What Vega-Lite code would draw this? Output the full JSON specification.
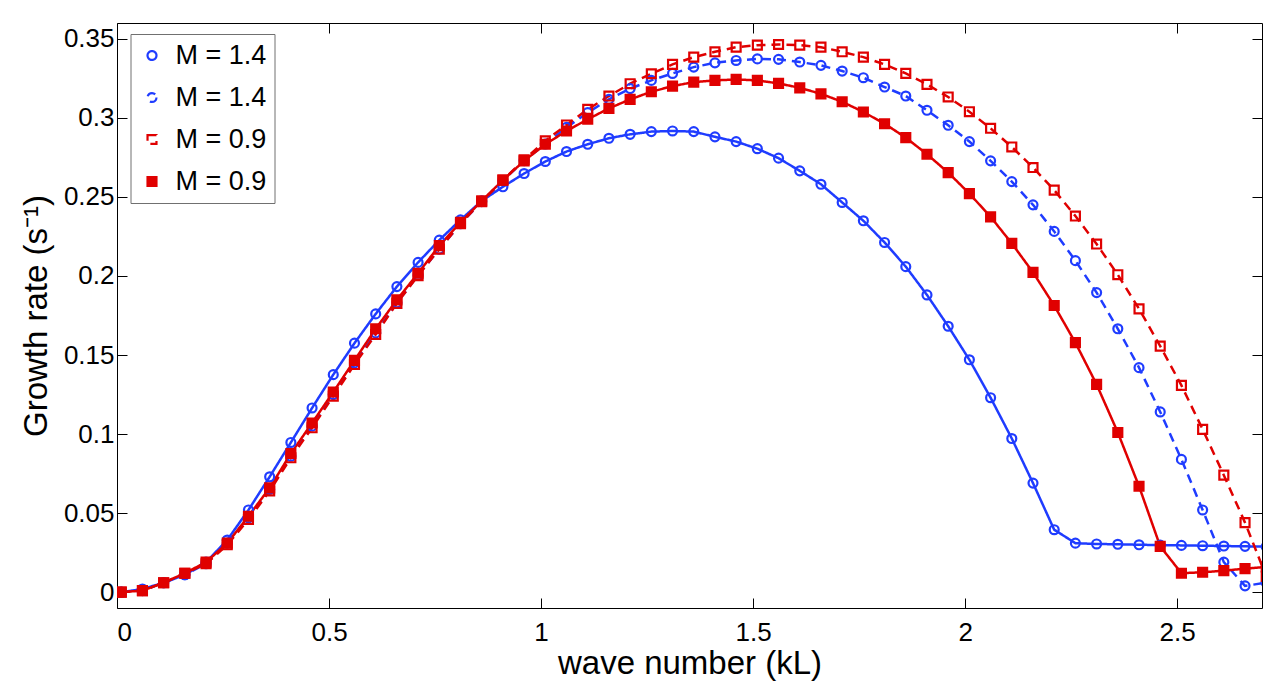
{
  "$schema": "https://vega.github.io/schema/vega-lite/v6.json",
  "width": 1145,
  "height": 585,
  "autosize": {"type": "none"},
  "padding": {"left": 117, "top": 23, "right": 9, "bottom": 73},
  "background": "white",
  "config": {
    "view": {"stroke": null},
    "font": "Liberation Sans",
    "axis": {
      "grid": false,
      "domainColor": "#000000",
      "domainWidth": 1,
      "tickColor": "#000000",
      "tickWidth": 1,
      "tickSize": -10,
      "labelColor": "#000000",
      "titleColor": "#000000",
      "labelFont": "Liberation Sans",
      "titleFont": "Liberation Sans",
      "labelFontSize": 26,
      "titleFontSize": 33,
      "titleFontWeight": "normal"
    }
  },
  "data": {
    "values": [
      {"x": 0.01, "blue_solid": 0.000, "blue_dashed": 0.000, "red_dashed": 0.000, "red_solid": 0.000},
      {"x": 0.06, "blue_solid": 0.002, "blue_dashed": 0.001, "red_dashed": 0.001, "red_solid": 0.001},
      {"x": 0.11, "blue_solid": 0.006, "blue_dashed": 0.006, "red_dashed": 0.006, "red_solid": 0.006},
      {"x": 0.16, "blue_solid": 0.011, "blue_dashed": 0.011, "red_dashed": 0.012, "red_solid": 0.012},
      {"x": 0.21, "blue_solid": 0.019, "blue_dashed": 0.018, "red_dashed": 0.018, "red_solid": 0.019},
      {"x": 0.26, "blue_solid": 0.033, "blue_dashed": 0.031, "red_dashed": 0.030, "red_solid": 0.031},
      {"x": 0.31, "blue_solid": 0.052, "blue_dashed": 0.047, "red_dashed": 0.046, "red_solid": 0.048},
      {"x": 0.36, "blue_solid": 0.073, "blue_dashed": 0.065, "red_dashed": 0.064, "red_solid": 0.066},
      {"x": 0.41, "blue_solid": 0.0947, "blue_dashed": 0.086, "red_dashed": 0.085, "red_solid": 0.0877},
      {"x": 0.46, "blue_solid": 0.1165, "blue_dashed": 0.105, "red_dashed": 0.104, "red_solid": 0.107},
      {"x": 0.51, "blue_solid": 0.1376, "blue_dashed": 0.125, "red_dashed": 0.124, "red_solid": 0.1266},
      {"x": 0.56, "blue_solid": 0.1575, "blue_dashed": 0.145, "red_dashed": 0.144, "red_solid": 0.1466},
      {"x": 0.61, "blue_solid": 0.176, "blue_dashed": 0.164, "red_dashed": 0.163, "red_solid": 0.1666},
      {"x": 0.66, "blue_solid": 0.1933, "blue_dashed": 0.183, "red_dashed": 0.1827, "red_solid": 0.1849},
      {"x": 0.71, "blue_solid": 0.2086, "blue_dashed": 0.2005, "red_dashed": 0.2002, "red_solid": 0.2017},
      {"x": 0.76, "blue_solid": 0.2227, "blue_dashed": 0.217, "red_dashed": 0.217, "red_solid": 0.2192},
      {"x": 0.81, "blue_solid": 0.2355, "blue_dashed": 0.233, "red_dashed": 0.233, "red_solid": 0.2339},
      {"x": 0.86, "blue_solid": 0.2475, "blue_dashed": 0.247, "red_dashed": 0.247, "red_solid": 0.2475},
      {"x": 0.91, "blue_solid": 0.2564, "blue_dashed": 0.2603, "red_dashed": 0.2606, "red_solid": 0.2606},
      {"x": 0.96, "blue_solid": 0.2648, "blue_dashed": 0.2730, "red_dashed": 0.2735, "red_solid": 0.2728},
      {"x": 1.01, "blue_solid": 0.2724, "blue_dashed": 0.2835, "red_dashed": 0.2855, "red_solid": 0.2833},
      {"x": 1.06, "blue_solid": 0.2787, "blue_dashed": 0.2940, "red_dashed": 0.2955, "red_solid": 0.2917},
      {"x": 1.11, "blue_solid": 0.2833, "blue_dashed": 0.3033, "red_dashed": 0.3054, "red_solid": 0.2991},
      {"x": 1.16, "blue_solid": 0.2871, "blue_dashed": 0.3117, "red_dashed": 0.3138, "red_solid": 0.3060},
      {"x": 1.21, "blue_solid": 0.2896, "blue_dashed": 0.3185, "red_dashed": 0.3216, "red_solid": 0.3117},
      {"x": 1.26, "blue_solid": 0.2913, "blue_dashed": 0.3237, "red_dashed": 0.3279, "red_solid": 0.3165},
      {"x": 1.31, "blue_solid": 0.2917, "blue_dashed": 0.3281, "red_dashed": 0.3338, "red_solid": 0.3201},
      {"x": 1.36, "blue_solid": 0.2913, "blue_dashed": 0.3321, "red_dashed": 0.3384, "red_solid": 0.3226},
      {"x": 1.41, "blue_solid": 0.2880, "blue_dashed": 0.3348, "red_dashed": 0.3418, "red_solid": 0.3237},
      {"x": 1.46, "blue_solid": 0.2850, "blue_dashed": 0.3363, "red_dashed": 0.3447, "red_solid": 0.3243},
      {"x": 1.51, "blue_solid": 0.2805, "blue_dashed": 0.3373, "red_dashed": 0.3460, "red_solid": 0.3237},
      {"x": 1.56, "blue_solid": 0.2745, "blue_dashed": 0.3370, "red_dashed": 0.3464, "red_solid": 0.3218},
      {"x": 1.61, "blue_solid": 0.2665, "blue_dashed": 0.3353, "red_dashed": 0.3460, "red_solid": 0.3190},
      {"x": 1.66, "blue_solid": 0.2580, "blue_dashed": 0.3332, "red_dashed": 0.3447, "red_solid": 0.3152},
      {"x": 1.71, "blue_solid": 0.2465, "blue_dashed": 0.3296, "red_dashed": 0.3418, "red_solid": 0.3102},
      {"x": 1.76, "blue_solid": 0.2349, "blue_dashed": 0.3254, "red_dashed": 0.3384, "red_solid": 0.3037},
      {"x": 1.81, "blue_solid": 0.2212, "blue_dashed": 0.3195, "red_dashed": 0.3338, "red_solid": 0.2963},
      {"x": 1.86, "blue_solid": 0.2059, "blue_dashed": 0.3138, "red_dashed": 0.3281, "red_solid": 0.2875},
      {"x": 1.91, "blue_solid": 0.1880, "blue_dashed": 0.3048, "red_dashed": 0.3212, "red_solid": 0.2770},
      {"x": 1.96, "blue_solid": 0.1682, "blue_dashed": 0.2953, "red_dashed": 0.3132, "red_solid": 0.2654},
      {"x": 2.01, "blue_solid": 0.1470, "blue_dashed": 0.2850, "red_dashed": 0.3039, "red_solid": 0.2521},
      {"x": 2.06, "blue_solid": 0.1230, "blue_dashed": 0.2728, "red_dashed": 0.2934, "red_solid": 0.2374},
      {"x": 2.11, "blue_solid": 0.0972, "blue_dashed": 0.2597, "red_dashed": 0.2816, "red_solid": 0.2206},
      {"x": 2.16, "blue_solid": 0.0690, "blue_dashed": 0.2450, "red_dashed": 0.2686, "red_solid": 0.2023},
      {"x": 2.21, "blue_solid": 0.0395, "blue_dashed": 0.2282, "red_dashed": 0.2543, "red_solid": 0.1813},
      {"x": 2.26, "blue_solid": 0.0310, "blue_dashed": 0.2097, "red_dashed": 0.2379, "red_solid": 0.1578},
      {"x": 2.31, "blue_solid": 0.0305, "blue_dashed": 0.1895, "red_dashed": 0.2202, "red_solid": 0.1314},
      {"x": 2.36, "blue_solid": 0.0303, "blue_dashed": 0.1666, "red_dashed": 0.2008, "red_solid": 0.1010},
      {"x": 2.41, "blue_solid": 0.0300, "blue_dashed": 0.1420, "red_dashed": 0.1792, "red_solid": 0.0670},
      {"x": 2.46, "blue_solid": 0.0298, "blue_dashed": 0.1140, "red_dashed": 0.1556, "red_solid": 0.0290},
      {"x": 2.51, "blue_solid": 0.0296, "blue_dashed": 0.0840, "red_dashed": 0.1308, "red_solid": 0.0120},
      {"x": 2.56, "blue_solid": 0.0294, "blue_dashed": 0.0520, "red_dashed": 0.1030, "red_solid": 0.0126},
      {"x": 2.61, "blue_solid": 0.0292, "blue_dashed": 0.0190, "red_dashed": 0.0740, "red_solid": 0.0136},
      {"x": 2.66, "blue_solid": 0.0290, "blue_dashed": 0.0040, "red_dashed": 0.0440, "red_solid": 0.0149},
      {"x": 2.71, "blue_solid": 0.0288, "blue_dashed": 0.0060, "red_dashed": 0.0100, "red_solid": 0.0160}
    ]
  },
  "transform": [
    {"fold": ["blue_solid", "blue_dashed", "red_dashed", "red_solid"], "as": ["series", "rate"]}
  ],
  "layer": [
    {
      "mark": {"type": "line", "clip": true, "strokeWidth": 2.5},
      "encoding": {
        "x": {
          "field": "x", "type": "quantitative",
          "scale": {"domain": [0, 2.7], "nice": false, "zero": false},
          "axis": {"orient": "bottom", "values": [0, 0.5, 1, 1.5, 2, 2.5], "format": "~g", "title": "wave number (kL)", "labelPadding": 21, "titlePadding": 2}
        },
        "y": {
          "field": "rate", "type": "quantitative",
          "scale": {"domain": [-0.01, 0.36], "nice": false, "zero": false},
          "axis": {"orient": "left", "values": [0, 0.05, 0.1, 0.15, 0.2, 0.25, 0.3, 0.35], "format": "~g", "title": "Growth rate (s⁻¹)", "labelPadding": 13, "titlePadding": 10}
        },
        "color": {
          "field": "series", "type": "nominal",
          "scale": {"domain": ["blue_solid", "blue_dashed", "red_dashed", "red_solid"], "range": ["#1f3cff", "#1f3cff", "#e00000", "#e00000"]},
          "legend": {
            "orient": "none",
            "legendX": 13.5,
            "legendY": 11,
            "title": null,
            "padding": 8,
            "symbolSize": 120,
            "symbolStrokeWidth": 2.5,
            "rowPadding": 14,
            "labelFontSize": 27,
            "labelFont": "Liberation Sans",
            "labelColor": "#000000",
            "labelOffset": 10,
            "labelExpr": "(datum.value === 'blue_solid' || datum.value === 'blue_dashed') ? 'M = 1.4\u00a0\u00a0\u00a0' : 'M = 0.9\u00a0\u00a0\u00a0'",
            "strokeColor": "#707070",
            "fillColor": "white"
          }
        },
        "strokeDash": {
          "field": "series", "type": "nominal",
          "scale": {"domain": ["blue_solid", "blue_dashed", "red_dashed", "red_solid"], "range": [[1, 0], [9, 6], [9, 6], [1, 0]]}
        }
      }
    },
    {
      "mark": {"type": "point", "clip": true, "opacity": 1},
      "encoding": {
        "x": {
          "field": "x", "type": "quantitative",
          "axis": {"orient": "top", "values": [0, 0.5, 1, 1.5, 2, 2.5], "labels": false, "title": null}
        },
        "y": {
          "field": "rate", "type": "quantitative",
          "axis": {"orient": "right", "values": [0, 0.05, 0.1, 0.15, 0.2, 0.25, 0.3, 0.35], "labels": false, "title": null}
        },
        "shape": {
          "field": "series", "type": "nominal",
          "scale": {"domain": ["blue_solid", "blue_dashed", "red_dashed", "red_solid"], "range": ["circle", "circle", "square", "square"]},
          "legend": null
        },
        "stroke": {
          "field": "series", "type": "nominal",
          "scale": {"domain": ["blue_solid", "blue_dashed", "red_dashed", "red_solid"], "range": ["#1f3cff", "#1f3cff", "#e00000", "#e00000"]},
          "legend": null
        },
        "fill": {
          "field": "series", "type": "nominal",
          "scale": {"domain": ["blue_solid", "blue_dashed", "red_dashed", "red_solid"], "range": ["transparent", "transparent", "transparent", "#e00000"]},
          "legend": null
        },
        "size": {
          "field": "series", "type": "ordinal",
          "scale": {"domain": ["blue_solid", "blue_dashed", "red_dashed", "red_solid"], "range": [80, 80, 50, 100]},
          "legend": null
        },
        "strokeWidth": {
          "field": "series", "type": "ordinal",
          "scale": {"domain": ["blue_solid", "blue_dashed", "red_dashed", "red_solid"], "range": [2.2, 2.2, 2.6, 1]},
          "legend": null
        }
      }
    }
  ],
  "resolve": {"axis": {"x": "independent", "y": "independent"}}
}
